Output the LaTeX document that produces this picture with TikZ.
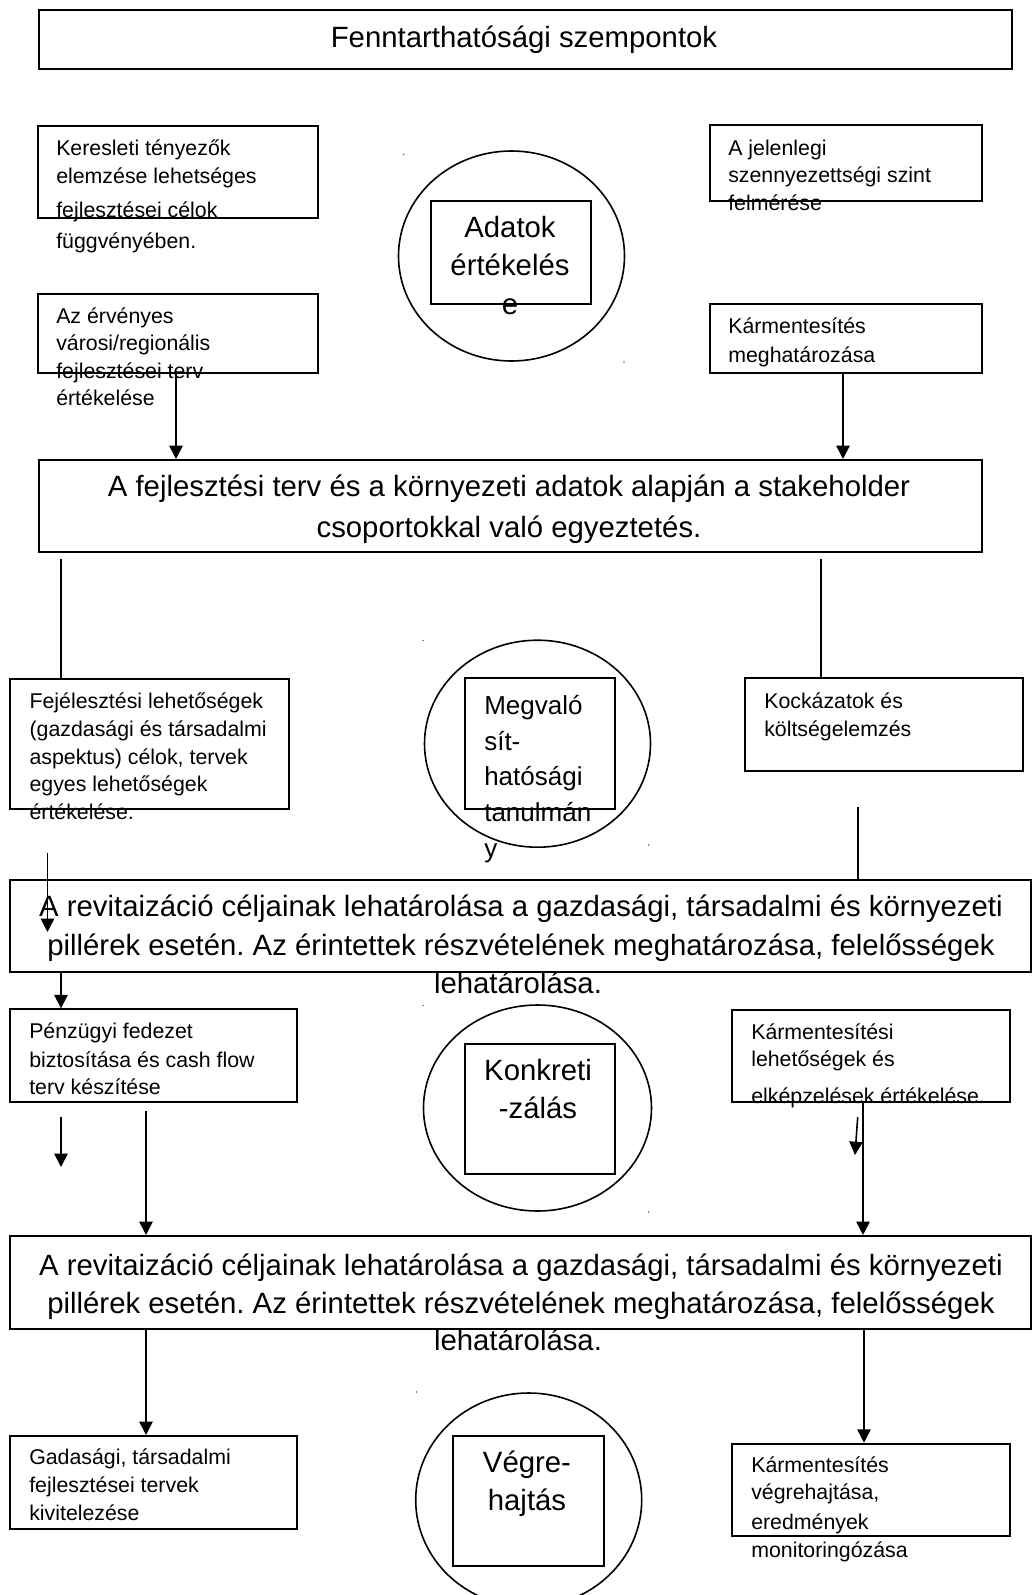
\documentclass[tikz,border=0pt]{standalone}
\usepackage{fontspec}
\setmainfont{Liberation Sans}
\usetikzlibrary{arrows.meta,shapes.geometric}
\frenchspacing
\begin{document}
\begin{tikzpicture}[x=0.75pt,y=-0.75pt,
  box/.style={draw, line width=1.5pt, inner sep=0pt, anchor=north west},
  sz/.style 2 args={minimum width=#1*0.75pt, minimum height=#2*0.75pt},
  oval/.style={draw, ellipse, line width=1.2pt, inner sep=0pt},
  stxt/.style={anchor=base west, inner sep=0pt, font=\fontsize{16pt}{19pt}\selectfont},
  btxt/.style={anchor=base, inner sep=0pt, font=\fontsize{22pt}{26pt}\selectfont},
  mtxt/.style={anchor=base west, inner sep=0pt, font=\fontsize{19.5pt}{23pt}\selectfont},
  link/.style={line width=1.2pt},
  arr/.style={line width=1.2pt, -{Triangle[width=10pt,length=10pt]}},
  dot/.style={fill=black!55}
]
\fill[white] (0,0) rectangle (1032,1595);
\useasboundingbox (0,0) rectangle (1032,1595);

% ---------- title ----------
\node[box, sz={973.5}{59}] (title) at (37.5,9) {};
\node[btxt] (titletxt) at (524,48) {Fenntarthatósági szempontok};

% ---------- stage 1: data assessment ----------
\node[box, sz={279.4}{91.7}] (k1) at (37.3,125) {};
\node[stxt] (k1a) at (56,155.5) {Keresleti tényezők};
\node[stxt] (k1b) at (56,183) {elemzése lehetséges};
\node[stxt] (k1c) at (56,217) {fejlesztései célok};
\node[stxt] (k1d) at (56,248) {függvényében.};

\node[box, sz={279.4}{78.4}] (k2) at (37.3,293.3) {};
\node[stxt] (k2a) at (56,323.5) {Az érvényes};
\node[stxt] (k2b) at (56,350.5) {városi/regionális};
\node[stxt] (k2c) at (56,378) {fejlesztései terv};
\node[stxt] (k2d) at (56,405.5) {értékelése};

\node[oval, minimum width=226*0.75pt, minimum height=210*0.75pt] (e1) at (511.5,256) {};
\node[box, sz={160.5}{103}] (c1) at (429.5,200) {};
\node[btxt] (c1a) at (510,237) {Adatok};
\node[btxt] (c1b) at (510,275.5) {értékelés};
\node[btxt] (c1c) at (510,314) {e};

\node[box, sz={271.7}{75.7}] (r1) at (709,124.3) {};
\node[stxt] (r1a) at (728,155.5) {A jelenlegi};
\node[stxt] (r1b) at (728,182.5) {szennyezettségi szint};
\node[stxt] (r1c) at (728,210) {felmérése};

\node[box, sz={271.7}{68.7}] (r2) at (709,303) {};
\node[stxt] (r2a) at (728,333.5) {Kármentesítés};
\node[stxt] (r2b) at (728,362) {meghatározása};

% ---------- consultation ----------
\node[box, sz={943.5}{92}] (big1) at (37.5,459) {};
\node[btxt] (big1a) at (509,496.5) {A fejlesztési terv és a környezeti adatok alapján a stakeholder};
\node[btxt] (big1b) at (509,537) {csoportokkal való egyeztetés.};

% ---------- stage 2: feasibility ----------
\node[box, sz={279.3}{130}] (f1) at (9,678) {};
\node[stxt] (f1a) at (29.3,708) {Fejélesztési lehetőségek};
\node[stxt] (f1b) at (29.3,736) {(gazdasági és társadalmi};
\node[stxt] (f1c) at (29.3,764) {aspektus) célok, tervek};
\node[stxt] (f1d) at (29.3,791.5) {egyes lehetőségek};
\node[stxt] (f1e) at (29.3,819) {értékelése.};

\node[oval, minimum width=226*0.75pt, minimum height=207*0.75pt] (e2) at (537.5,743.7) {};
\node[box, sz={149.6}{131}] (c2) at (464,677.3) {};
\node[mtxt] (c2a) at (484,714) {Megvaló};
\node[mtxt] (c2b) at (484,750) {sít-};
\node[mtxt] (c2c) at (484,785.5) {hatósági};
\node[mtxt] (c2d) at (484,821) {tanulmán};
\node[mtxt] (c2e) at (484,857) {y};

\node[box, sz={278}{92.7}] (kk) at (744,677.3) {};
\node[stxt] (kka) at (764,708) {Kockázatok és};
\node[stxt] (kkb) at (764,736) {költségelemzés};

% ---------- goal setting ----------
\node[box, sz={1021.4}{92}] (big2) at (8.6,879) {};
\node[btxt] (big2a) at (521,916) {A revitaizáció céljainak lehatárolása a gazdasági, társadalmi és környezeti};
\node[btxt] (big2b) at (521,955) {pillérek esetén. Az érintettek részvételének meghatározása, felelősségek};
\node[btxt] (big2c) at (518,993) {lehatárolása.};

% ---------- stage 3: specification ----------
\node[box, sz={286.6}{92.7}] (p1) at (9,1008.3) {};
\node[stxt] (p1a) at (29,1038) {Pénzügyi fedezet};
\node[stxt] (p1b) at (29,1067) {biztosítása és cash flow};
\node[stxt] (p1c) at (29,1094.5) {terv készítése};

\node[oval, minimum width=228*0.75pt, minimum height=206*0.75pt] (e3) at (537.5,1108) {};
\node[box, sz={149.6}{130.3}] (c3) at (464,1043) {};
\node[btxt] (c3a) at (538,1080) {Konkreti};
\node[btxt] (c3b) at (538,1118) {-zálás};

\node[box, sz={278.3}{92}] (km) at (731,1009) {};
\node[stxt] (kma) at (751,1039) {Kármentesítési};
\node[stxt] (kmb) at (751,1066.5) {lehetőségek és};
\node[stxt] (kmc) at (751,1103) {elképzelések értékelése.};

% ---------- goal setting (repeated) ----------
\node[box, sz={1021.4}{93}] (big3) at (8.6,1235) {};
\node[btxt] (big3a) at (521,1275.5) {A revitaizáció céljainak lehatárolása a gazdasági, társadalmi és környezeti};
\node[btxt] (big3b) at (521,1313.5) {pillérek esetén. Az érintettek részvételének meghatározása, felelősségek};
\node[btxt] (big3c) at (518,1350) {lehatárolása.};

% ---------- stage 4: implementation ----------
\node[box, sz={286.6}{93.3}] (g1) at (9,1435) {};
\node[stxt] (g1a) at (29,1464.5) {Gadasági, társadalmi};
\node[stxt] (g1b) at (29,1492.5) {fejlesztései tervek};
\node[stxt] (g1c) at (29,1520.5) {kivitelezése};

\node[oval, minimum width=226*0.75pt, minimum height=214*0.75pt] (e4) at (528.7,1500) {};
\node[box, sz={150.4}{130}] (c4) at (452.3,1435) {};
\node[btxt] (c4a) at (527,1472) {Végre-};
\node[btxt] (c4b) at (527,1510.5) {hajtás};

\node[box, sz={278.3}{92.3}] (kv) at (731,1442.7) {};
\node[stxt] (kva) at (751,1472) {Kármentesítés};
\node[stxt] (kvb) at (751,1499.5) {végrehajtása,};
\node[stxt] (kvc) at (751,1529) {eredmények};
\node[stxt] (kvd) at (751,1557) {monitoringózása};

% ---------- anchor marks of the ovals ----------
\fill[dot] (403.6,154.5) circle (0.9);
\fill[dot] (624,362) circle (0.9);
\fill[dot] (423,640.5) circle (0.9);
\fill[dot] (648.6,845) circle (0.9);
\fill[dot] (423,1005.5) circle (0.9);
\fill[dot] (648.6,1212) circle (0.9);
\fill[dot] (416.5,1392) circle (0.9);

% ---------- connector columns and free ends ----------
\coordinate (ca) at (176,0);
\coordinate (cb) at (843,0);
\coordinate (cc) at (61,0);
\coordinate (cd) at (821,0);
\coordinate (ce) at (858,0);
\coordinate (cf) at (146,0);
\coordinate (cg) at (863,0);
\coordinate (ch) at (864,0);
\coordinate (l1s) at (61,559);
\coordinate (l2s) at (821,559);
\coordinate (l3s) at (858,807);
\coordinate (a3s) at (47.5,853);
\coordinate (a3e) at (47.5,932);
\coordinate (a5s) at (61,1117);
\coordinate (a5e) at (61,1167);
\coordinate (a6s) at (146,1111);
\coordinate (a8s) at (857.7,1117);
\coordinate (a8e) at (855,1155);

% ---------- connectors ----------
\draw[arr] (k2.south -| ca) -- (big1.north -| ca);
\draw[arr] (r2.south -| cb) -- (big1.north -| cb);
\draw[link] (l1s) -- (f1.north -| cc);
\draw[link] (l2s) -- (kk.north -| cd);
\draw[link] (l3s) -- (big2.north -| ce);
\draw[arr] (a3s) -- (a3e);
\draw[arr] (big2.south -| cc) -- (p1.north -| cc);
\draw[arr] (a5s) -- (a5e);
\draw[arr] (a6s) -- (big3.north -| cf);
\draw[arr] (km.south -| cg) -- (big3.north -| cg);
\draw[arr] (a8s) -- (a8e);
\draw[arr] (big3.south -| cf) -- (g1.north -| cf);
\draw[arr] (big3.south -| ch) -- (kv.north -| ch);
\end{tikzpicture}
\end{document}
